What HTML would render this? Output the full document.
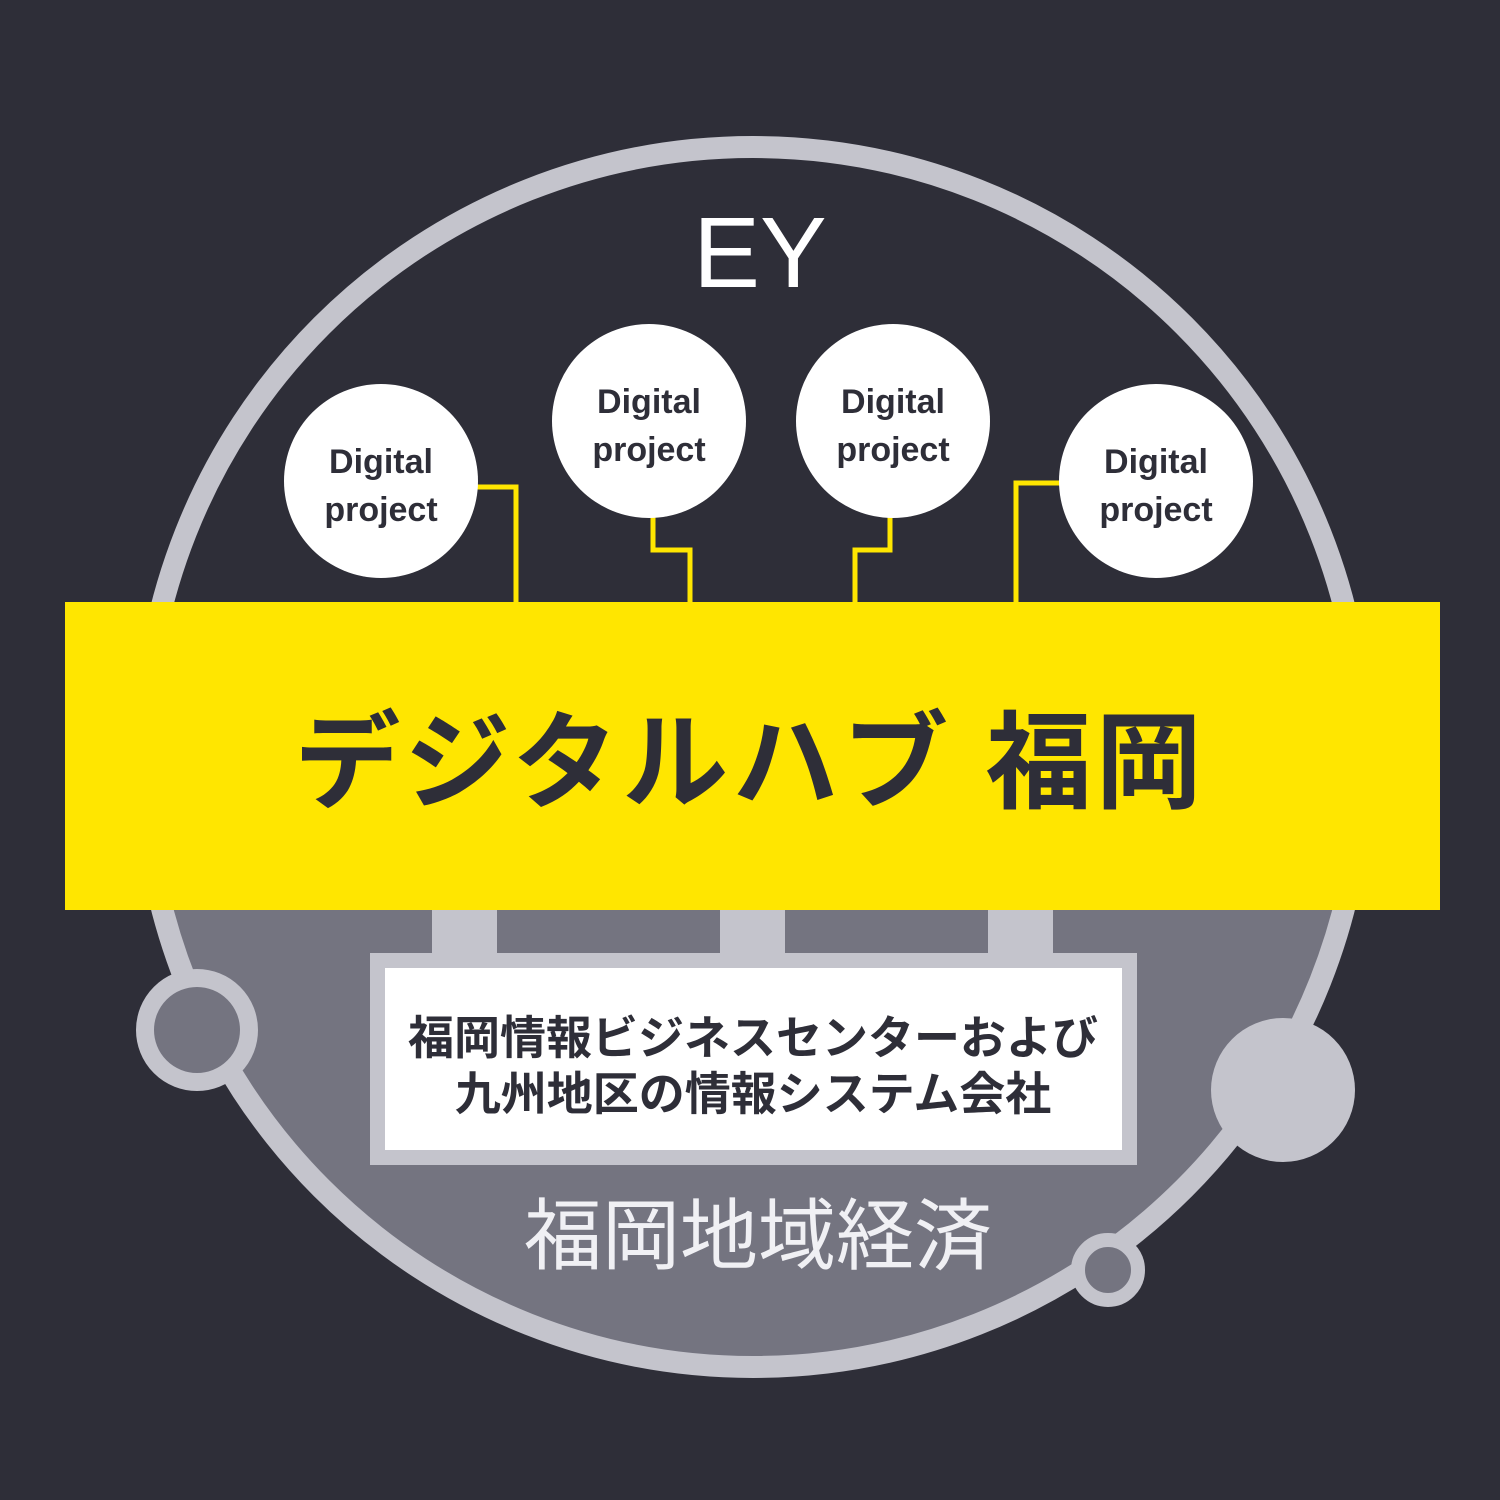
<!DOCTYPE html>
<html><head><meta charset="utf-8"><style>
body{margin:0;background:#2e2e38;}
svg{display:block}
</style></head><body>
<svg width="1500" height="1500" viewBox="0 0 1500 1500" xmlns="http://www.w3.org/2000/svg">
<rect width="1500" height="1500" fill="#2e2e38"/>
<defs><clipPath id="c"><circle cx="753" cy="757" r="610"/></clipPath></defs>
<rect x="0" y="860" width="1500" height="700" fill="#747480" clip-path="url(#c)"/>
<circle cx="753" cy="757" r="610" fill="none" stroke="#c4c4cc" stroke-width="22"/>
<circle cx="197" cy="1030" r="52" fill="#747480" stroke="#c4c4cc" stroke-width="18"/>
<circle cx="1283" cy="1090" r="72" fill="#c4c4cc"/>
<circle cx="1108" cy="1270" r="30" fill="#747480" stroke="#c4c4cc" stroke-width="14"/>
<g stroke="#ffe600" stroke-width="5" fill="none">
<polyline points="476,487 516,487 516,605"/>
<polyline points="653,515 653,550 690,550 690,605"/>
<polyline points="890,515 890,550 855,550 855,605"/>
<polyline points="1062,483 1016,483 1016,605"/>
</g>
<g fill="#fff">
<circle cx="381" cy="481" r="97"/>
<circle cx="649" cy="421" r="97"/>
<circle cx="893" cy="421" r="97"/>
<circle cx="1156" cy="481" r="97"/>
</g>
<g font-family="Liberation Sans, sans-serif" font-weight="bold" font-size="34" fill="#2e2e38" text-anchor="middle">
<text x="381" y="473">Digital</text><text x="381" y="521">project</text>
<text x="649" y="413">Digital</text><text x="649" y="461">project</text>
<text x="893" y="413">Digital</text><text x="893" y="461">project</text>
<text x="1156" y="473">Digital</text><text x="1156" y="521">project</text>
</g>
<text x="760" y="287" font-family="Liberation Sans, sans-serif" font-size="100" fill="#fff" text-anchor="middle">EY</text>
<g fill="#c4c4cc">
<rect x="432" y="905" width="65" height="55"/>
<rect x="720" y="905" width="65" height="55"/>
<rect x="988" y="905" width="65" height="55"/>
<rect x="370" y="953" width="767" height="212"/>
</g>
<rect x="385" y="968" width="737" height="182" fill="#fff"/>
<rect x="65" y="602" width="1375" height="308" fill="#ffe600"/>
<text x="750" y="800" font-family="Liberation Sans, 'Noto Sans CJK JP', sans-serif" font-weight="bold" font-size="106" letter-spacing="4" fill="#2e2e38" text-anchor="middle">デジタルハブ 福岡</text>
<g font-family="Liberation Sans, 'Noto Sans CJK JP', sans-serif" font-weight="bold" font-size="46" fill="#2e2e38" text-anchor="middle">
<text x="753" y="1054">福岡情報ビジネスセンターおよび</text>
<text x="753" y="1110">九州地区の情報システム会社</text>
</g>
<text x="758" y="1263" font-family="Liberation Sans, 'Noto Sans CJK JP', sans-serif" font-size="78" fill="#f0f0f4" text-anchor="middle">福岡地域経済</text>
</svg>
</body></html>
